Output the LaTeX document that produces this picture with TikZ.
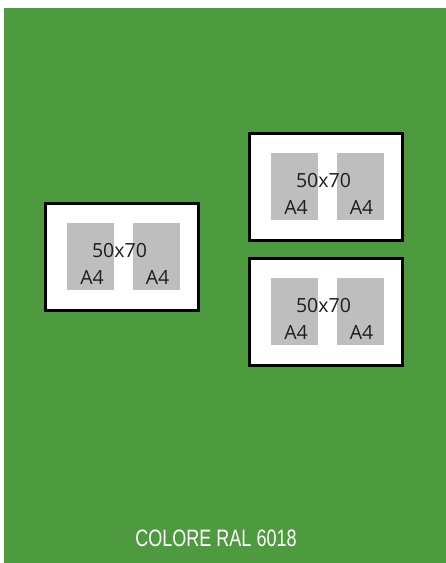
\documentclass[tikz,border=0pt]{standalone}
\usepackage{fontspec}
\setmainfont{Open Sans}
\newfontfamily\labelfont{Liberation Sans}
\definecolor{ralgreen}{HTML}{4E9A3F}
\definecolor{sheetgrey}{HTML}{BEBEBE}
\definecolor{txtdark}{HTML}{1E1E1E}
\tikzset{
  framebox/.style={draw=black, line width=3pt, fill=white},
  sheet/.style={fill=sheetgrey, draw=none},
  sizetxt/.style={anchor=base, inner sep=0pt, text=txtdark, font=\fontsize{19.5}{20}\selectfont},
}
\begin{document}
\begin{tikzpicture}[x=1pt,y=-1pt]
\useasboundingbox (0,0) rectangle (446,563);
\fill[white] (0,0) rectangle (446,563);
\fill[ralgreen] (4,8) rectangle (446,563);
\foreach \dx/\dy/\n in {0/0/L, 204/-70/T, 204/55/B}{
  \begin{scope}[shift={(\dx,\dy)}]
    \draw[framebox] (45.5,203.5) rectangle (198.5,310.5);
    \fill[sheet] (67,223) rectangle (114,290);
    \fill[sheet] (133,223) rectangle (180,290);
    \node[sizetxt] (size\n) at (119.5,257) {50x70};
    \node[sizetxt] (a\n1) at (92,284) {A4};
    \node[sizetxt] (a\n2) at (157.5,284) {A4};
  \end{scope}
}
\node[anchor=base, inner sep=0pt, text=white, font=\labelfont\fontsize{23.7}{24}\selectfont] (ral) at (216,546) {\scalebox{0.76}[1]{COLORE RAL 6018}};
\end{tikzpicture}
\end{document}
